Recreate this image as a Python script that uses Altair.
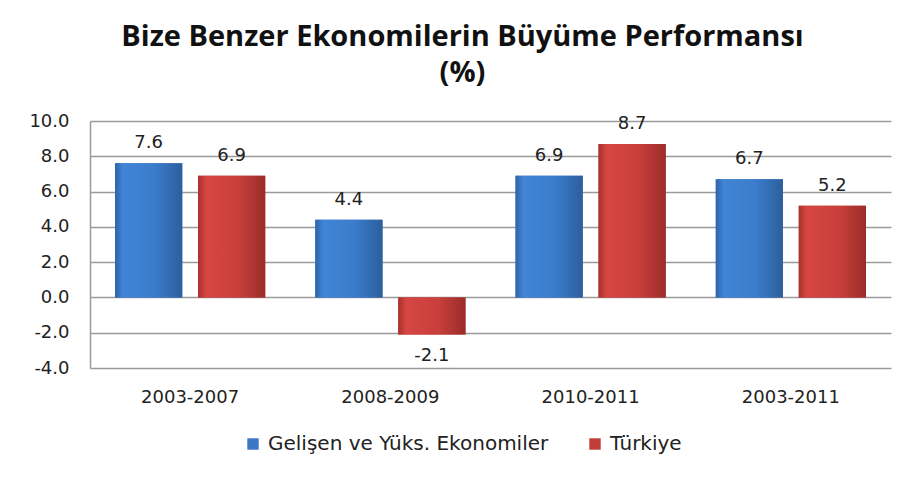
import altair as alt
import pandas as pd

periods = ["2003-2007", "2008-2009", "2010-2011", "2003-2011"]
series = ["Gelişen ve Yüks. Ekonomiler", "Türkiye"]
gelisen = [7.6, 4.4, 6.9, 6.7]
turkiye = [6.9, -2.1, 8.7, 5.2]

rows = []
for i, p in enumerate(periods):
    rows.append({"period": p, "series": series[0], "value": gelisen[i]})
    rows.append({"period": p, "series": series[1], "value": turkiye[i]})
df = pd.DataFrame(rows)

FONT = "DejaVu Sans"
TXT = "#222222"
FS = 18

x_enc = alt.X("period:N", sort=periods, title=None,
              scale=alt.Scale(paddingInner=0.25, paddingOuter=0.125),
              axis=alt.Axis(labelAngle=0, ticks=False, domain=False, grid=False, labelPadding=20,
                            labelFont=FONT, labelFontSize=FS, labelColor=TXT))
xoff = alt.XOffset("series:N", sort=series, scale=alt.Scale(paddingInner=0.19, paddingOuter=0))
y_enc = alt.Y("value:Q", title=None,
              scale=alt.Scale(domain=[-4, 10], nice=False, zero=False),
              axis=alt.Axis(orient="left", values=[-4, -2, 0, 2, 4, 6, 8, 10], format=".1f",
                            ticks=False,
                            labelExpr="replace(datum.label, '\u2212', '-')",
                            labelPadding=21, labelFont=FONT, labelFontSize=FS, labelColor=TXT,
                            domainColor="#9a9a9a", domainWidth=1.5,
                            gridColor="#9a9a9a", gridWidth=1.5))

base = alt.Chart(df).transform_calculate(
    label="replace(format(datum.value, '.1f'), '\u2212', '-')")

bars = base.mark_bar().encode(
    x=x_enc, xOffset=xoff, y=y_enc, y2=alt.datum(0),
    color=alt.Color("series:N", sort=series,
                    scale=alt.Scale(domain=series, range=["#3a78c6", "#c23c38"]),
                    legend=alt.Legend(title=None, orient="none", direction="horizontal",
                                      legendX=153, legendY=313, symbolType="square",
                                      symbolSize=130, symbolStrokeWidth=0, labelLimit=0,
                                      labelFont=FONT, labelFontSize=20, labelColor=TXT,
                                      columnPadding=36, labelOffset=5)),
)

blue_grad = alt.Gradient(gradient="linear", x1=0, x2=1, y1=0, y2=0, stops=[
    alt.GradientStop(color="#2f63a8", offset=0),
    alt.GradientStop(color="#4185d6", offset=0.12),
    alt.GradientStop(color="#3b7bcb", offset=0.6),
    alt.GradientStop(color="#2c5f9c", offset=1)])
red_grad = alt.Gradient(gradient="linear", x1=0, x2=1, y1=0, y2=0, stops=[
    alt.GradientStop(color="#a8302c", offset=0),
    alt.GradientStop(color="#d64642", offset=0.12),
    alt.GradientStop(color="#c93f3b", offset=0.6),
    alt.GradientStop(color="#9a2c29", offset=1)])

blue_bars = base.transform_filter(alt.datum.series == series[0]).mark_bar(
    color=blue_grad).encode(x=x_enc, xOffset=xoff, y=y_enc, y2=alt.datum(0))
red_bars = base.transform_filter(alt.datum.series == series[1]).mark_bar(
    color=red_grad).encode(x=x_enc, xOffset=xoff, y=y_enc, y2=alt.datum(0))

pos_labels = base.transform_filter(alt.datum.value >= 0).mark_text(
    dy=-20, font=FONT, fontSize=FS, color=TXT).encode(
    x=x_enc, xOffset=xoff, y=y_enc, text="label:N")
neg_labels = base.transform_filter(alt.datum.value < 0).mark_text(
    dy=22, font=FONT, fontSize=FS, color=TXT).encode(
    x=x_enc, xOffset=xoff, y=y_enc, text="label:N")

chart = alt.layer(bars, blue_bars, red_bars, pos_labels, neg_labels).resolve_axis(
    y="shared", x="shared").properties(
    width=801, height=247,
    background="white",
    autosize=alt.AutoSizeParams(type="none"),
    padding={"left": 82, "top": 113, "right": 10, "bottom": 103},
    title=alt.Title(["Bize Benzer Ekonomilerin Büyüme Performansı", "(%)"],
                    font="Open Sans", fontSize=29, fontWeight="bold", color="#111111",
                    lineHeight=36, anchor="middle", offset=24, dx=-28),
).configure_view(stroke=None)

chart.save("out.html", embed_options={"renderer": "svg", "actions": False})
